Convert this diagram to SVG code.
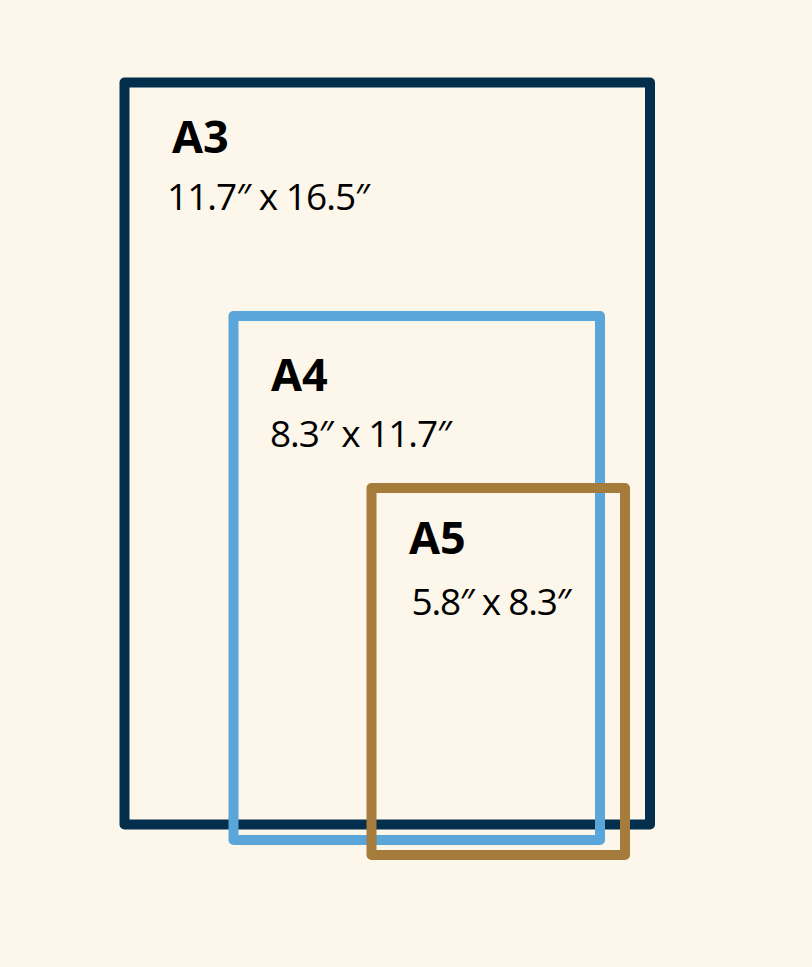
<svg xmlns="http://www.w3.org/2000/svg" width="812" height="967" viewBox="0 0 812 967">
<style>
.frame{fill:none;stroke-width:10;stroke-linejoin:round}
.a3{stroke:#032e4c}
.a4{stroke:#5aa6da}
.a5{stroke:#a67c3c}
.lbl{font-family:"Open Sans","DejaVu Sans",sans-serif;font-weight:700;font-size:45px;fill:#000}
.dim{font-family:"Open Sans","DejaVu Sans",sans-serif;font-size:37px;fill:#000}
</style>
<rect width="812" height="967" fill="#fdf6ea"/>
<g id="a3">
<rect class="frame a3" x="124.5" y="82.5" width="525.5" height="742"/>
<text class="lbl" x="172" y="153">A3</text>
<text class="dim" x="167" y="210" textLength="203" lengthAdjust="spacing">11.7″ x 16.5″</text>
</g>
<g id="a4">
<rect class="frame a4" x="233.5" y="316" width="366.5" height="524"/>
<text class="lbl" x="271" y="390.5">A4</text>
<text class="dim" x="270" y="446.5" textLength="182" lengthAdjust="spacing">8.3″ x 11.7″</text>
</g>
<g id="a5">
<rect class="frame a5" x="371.5" y="488" width="253.5" height="367"/>
<text class="lbl" x="409" y="554">A5</text>
<text class="dim" x="411.5" y="615" textLength="160" lengthAdjust="spacing">5.8″ x 8.3″</text>
</g>
<g id="connectors"></g>
</svg>
